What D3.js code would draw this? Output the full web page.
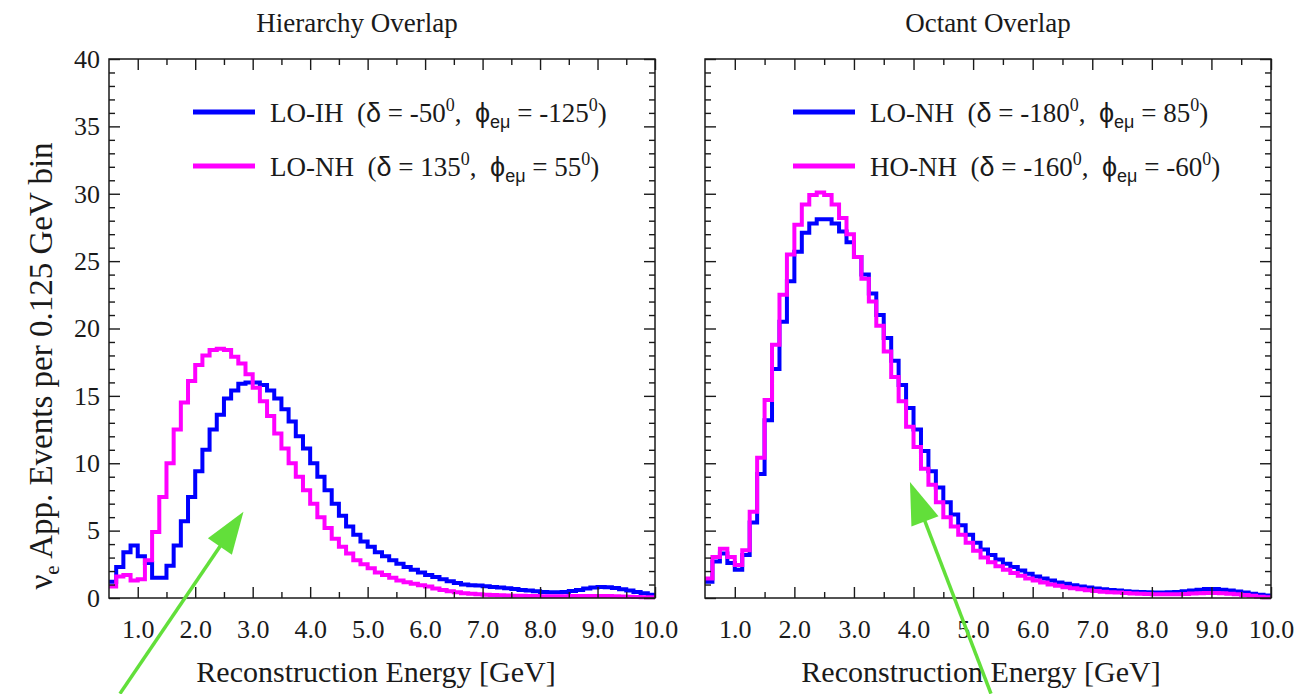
<!DOCTYPE html>
<html>
<head>
<meta charset="utf-8">
<script src="https://cdn.jsdelivr.net/npm/d3@7"></script>
<style>
  body { margin: 0; background: #fff; }
  svg { display: block; }
</style>
</head>
<body>
<svg id="chart" width="1298" height="694"></svg>
<script>
// ---- data -------------------------------------------------------------
// lower edges of the 0.125 GeV reconstruction-energy bins (0.5 .. 10.0 GeV)
const binLow = d3.range(76).map(i => 0.5 + i * 0.125);
const binTop = 10.0;

// Hierarchy overlap: LO-IH (blue) and LO-NH (magenta), events per bin
const hierarchyIH = [
  1.2, 2.3, 3.4, 3.9, 3.1, 2.6, 1.5, 1.5, 2.4, 3.9,
  5.7, 7.5, 9.4, 11.0, 12.5, 13.6, 14.8, 15.4, 15.9, 16.0,
  16.0, 15.8, 15.4, 14.8, 14.0, 13.1, 12.0, 11.1, 10.0, 9.0,
  8.0, 7.0, 6.1, 5.3, 4.7, 4.2, 3.8, 3.4, 3.1, 2.8,
  2.55, 2.3, 2.1, 1.9, 1.7, 1.55, 1.4, 1.25, 1.12, 1.0,
  0.95, 0.92, 0.88, 0.82, 0.77, 0.72, 0.66, 0.6, 0.55, 0.5,
  0.45, 0.42, 0.42, 0.45, 0.52, 0.6, 0.7, 0.78, 0.82, 0.8,
  0.75, 0.65, 0.55, 0.45, 0.35, 0.25
];
const hierarchyNH = [
  0.85, 1.6, 1.7, 1.3, 1.4, 2.8, 4.9, 7.5, 10.0, 12.5,
  14.5, 16.1, 17.3, 18.0, 18.4, 18.5, 18.4, 17.9, 17.4, 16.6,
  15.6, 14.6, 13.5, 12.2, 11.1, 10.0, 9.0, 8.0, 7.0, 6.0,
  5.2, 4.4, 3.8, 3.3, 2.8, 2.5, 2.2, 1.9, 1.7, 1.5,
  1.3, 1.17, 1.05, 0.95, 0.85, 0.7, 0.6, 0.5, 0.42, 0.36,
  0.32, 0.28, 0.25, 0.22, 0.2, 0.18, 0.17, 0.16, 0.15, 0.14,
  0.13, 0.13, 0.13, 0.13, 0.14, 0.15, 0.15, 0.15, 0.15, 0.14,
  0.13, 0.12, 0.1, 0.08, 0.06, 0.05
];

// Octant overlap: LO-NH (blue) and HO-NH (magenta), events per bin
const octantLO = [
  1.2, 2.7, 3.3, 2.6, 2.1, 3.2, 5.6, 9.2, 13.2, 17.0,
  20.5, 23.5, 25.7, 27.1, 27.8, 28.1, 28.1, 27.8, 27.2, 26.4,
  25.3, 24.0, 22.6, 21.0, 19.3, 17.6, 15.8, 14.1, 12.5, 10.9,
  9.4, 8.2, 7.1, 6.2, 5.4, 4.7, 4.1, 3.6, 3.2, 2.85,
  2.55, 2.3, 2.05, 1.8, 1.6, 1.45, 1.3, 1.15, 1.05, 0.95,
  0.85, 0.78, 0.7, 0.65, 0.6, 0.55, 0.5, 0.47, 0.44, 0.42,
  0.4, 0.4, 0.42, 0.45, 0.5, 0.56, 0.62, 0.66, 0.66, 0.62,
  0.56, 0.48, 0.4, 0.32, 0.25, 0.18
];
const octantHO = [
  1.45, 3.05, 3.65, 3.05, 2.45, 3.55, 6.4, 10.4, 14.7, 18.8,
  22.5, 25.5, 27.7, 29.2, 29.9, 30.1, 29.9, 29.2, 28.2, 27.0,
  25.3, 23.7, 22.0, 20.2, 18.3, 16.4, 14.6, 12.7, 11.2, 9.6,
  8.4, 7.1, 6.0, 5.3, 4.7, 4.1, 3.5, 3.0, 2.65, 2.35,
  2.1, 1.85, 1.65, 1.45, 1.3, 1.15, 1.0, 0.9, 0.8, 0.72,
  0.65, 0.58, 0.52, 0.47, 0.43, 0.4, 0.37, 0.34, 0.32, 0.3,
  0.28, 0.27, 0.27, 0.28, 0.3, 0.33, 0.35, 0.37, 0.37, 0.35,
  0.32, 0.28, 0.22, 0.16, 0.1, 0.06
];

// axis ticks
const xMajor = [1, 2, 3, 4, 5, 6, 7, 8, 9, 10];
const xMinor = [1.5, 2.5, 3.5, 4.5, 5.5, 6.5, 7.5, 8.5, 9.5];
const yMajor = [0, 5, 10, 15, 20, 25, 30, 35, 40];
const yMinor = d3.range(1, 40).filter(v => v % 5 !== 0);

// panel texts and legend entries
const titles = ["Hierarchy Overlap", "Octant Overlap"];
const xTitle = "Reconstruction Energy [GeV]";
const hierarchyLegend = [
  { name: "LO-IH", delta: "-50", phi: "-125" },
  { name: "LO-NH", delta: "135", phi: "55" }
];
const octantLegend = [
  { name: "LO-NH", delta: "-180", phi: "85" },
  { name: "HO-NH", delta: "-160", phi: "-60" }
];

// ---- layout and style -------------------------------------------------
const SERIF = "'Liberation Serif', 'Times New Roman', serif";
const SANS = "'Liberation Sans', Arial, sans-serif";
const BLUE = "#0000ff", MAGENTA = "#ff00ff", GREEN = "#62df3a", INK = "#1a1a1a";
const plotTop = 59, plotBottom = 598;
const TICK_FONT = 26;

const panels = [
  { left: 109, right: 655, title: titles[0], titleX: 357, xTitleX: 376,
    series: [hierarchyIH, hierarchyNH], legend: hierarchyLegend, legendX: 193,
    yLabels: true, arrow: { tail: [0.69, -7.1], tip: [2.84, 6.4] } },
  { left: 705, right: 1271, title: titles[1], titleX: 988, xTitleX: 981,
    series: [octantLO, octantHO], legend: octantLegend, legendX: 793,
    yLabels: false, arrow: { tail: [5.3, -7.1], tip: [3.94, 8.6] } }
];
const colors = [BLUE, MAGENTA];

const svg = d3.select("#chart");

function styleAxis(g) {
  g.select(".domain").remove();
  g.attr("font-family", SERIF).attr("font-size", TICK_FONT).attr("color", INK);
  g.selectAll(".tick line").attr("stroke-width", 1.4);
}

panels.forEach(p => {
  const x = d3.scaleLinear().domain([0.5, binTop]).range([p.left, p.right]);
  const y = d3.scaleLinear().domain([0, 40]).range([plotBottom, plotTop]);
  const g = svg.append("g");

  // histogram step lines
  const line = d3.line()
    .x(d => x(d[0])).y(d => y(d[1]))
    .curve(d3.curveStepAfter);
  p.series.forEach((vals, k) => {
    const pts = vals.map((v, i) => [binLow[i], v]);
    pts.push([binTop, vals[vals.length - 1]]);
    g.append("path")
      .attr("d", line(pts))
      .attr("fill", "none")
      .attr("stroke", colors[k])
      .attr("stroke-width", 4)
      .attr("stroke-linejoin", "miter");
  });

  // frame
  g.append("rect")
    .attr("x", p.left).attr("y", plotTop)
    .attr("width", p.right - p.left).attr("height", plotBottom - plotTop)
    .attr("fill", "none").attr("stroke", INK).attr("stroke-width", 1.5);

  // bottom axis with labels
  g.append("g").attr("transform", `translate(0,${plotBottom})`)
    .call(d3.axisBottom(x).tickValues(xMajor).tickSize(-11).tickSizeOuter(0)
      .tickPadding(22).tickFormat(d => d.toFixed(1)))
    .call(styleAxis);
  g.append("g").attr("transform", `translate(0,${plotBottom})`)
    .call(d3.axisBottom(x).tickValues(xMinor).tickSize(-6).tickSizeOuter(0).tickFormat(""))
    .call(styleAxis);
  // top axis
  g.append("g").attr("transform", `translate(0,${plotTop})`)
    .call(d3.axisTop(x).tickValues(xMajor).tickSize(-11).tickSizeOuter(0).tickFormat(""))
    .call(styleAxis);
  g.append("g").attr("transform", `translate(0,${plotTop})`)
    .call(d3.axisTop(x).tickValues(xMinor).tickSize(-6).tickSizeOuter(0).tickFormat(""))
    .call(styleAxis);
  // left axis
  g.append("g").attr("transform", `translate(${p.left},0)`)
    .call(d3.axisLeft(y).tickValues(yMajor).tickSize(-11).tickSizeOuter(0)
      .tickPadding(9).tickFormat(p.yLabels ? d3.format("d") : ""))
    .call(styleAxis);
  g.append("g").attr("transform", `translate(${p.left},0)`)
    .call(d3.axisLeft(y).tickValues(yMinor).tickSize(-6).tickSizeOuter(0).tickFormat(""))
    .call(styleAxis);
  // right axis
  g.append("g").attr("transform", `translate(${p.right},0)`)
    .call(d3.axisRight(y).tickValues(yMajor).tickSize(-11).tickSizeOuter(0).tickFormat(""))
    .call(styleAxis);
  g.append("g").attr("transform", `translate(${p.right},0)`)
    .call(d3.axisRight(y).tickValues(yMinor).tickSize(-6).tickSizeOuter(0).tickFormat(""))
    .call(styleAxis);

  // panel title and x-axis title
  g.append("text").attr("x", p.titleX).attr("y", 32)
    .attr("text-anchor", "middle").attr("font-family", SERIF)
    .attr("font-size", 27).attr("fill", INK).text(p.title);
  g.append("text").attr("x", p.xTitleX).attr("y", 682)
    .attr("text-anchor", "middle").attr("font-family", SERIF)
    .attr("font-size", 30).attr("fill", INK).text(xTitle);

  // legend
  p.legend.forEach((e, k) => {
    const ly = 112 + k * 54;
    g.append("line")
      .attr("x1", p.legendX).attr("x2", p.legendX + 62)
      .attr("y1", ly).attr("y2", ly)
      .attr("stroke", colors[k]).attr("stroke-width", 5);
    const t = g.append("text")
      .attr("x", p.legendX + 77).attr("y", ly + 10)
      .attr("font-family", SERIF).attr("font-size", 27).attr("fill", INK)
      .style("white-space", "pre");
    const seg = (s, opts = {}) => {
      const ts = t.append("tspan").text(s);
      if (opts.font) ts.attr("font-family", opts.font);
      if (opts.size) ts.attr("font-size", opts.size);
      if (opts.dy) ts.attr("dy", opts.dy);
      return ts;
    };
    seg(e.name + "  (");
    seg("δ", { font: SANS });
    seg(" = " + e.delta);
    seg("0", { size: 18, dy: -11 });
    seg(",  ", { dy: 11 });
    seg("ϕ", { font: SANS });
    seg("eμ", { size: 18, dy: 6, font: SANS });
    seg(" = " + e.phi, { dy: -6 });
    seg("0", { size: 18, dy: -11 });
    seg(")", { dy: 11 });
  });

  // green pointer arrow
  const tip = [x(p.arrow.tip[0]), y(p.arrow.tip[1])];
  const tail = [x(p.arrow.tail[0]), y(p.arrow.tail[1])];
  const dx = tip[0] - tail[0], dy = tip[1] - tail[1];
  const len = Math.hypot(dx, dy), ux = dx / len, uy = dy / len;
  const headLen = 42, headHalf = 14.5;
  const base = [tip[0] - ux * headLen, tip[1] - uy * headLen];
  g.append("line")
    .attr("x1", tail[0]).attr("y1", tail[1])
    .attr("x2", base[0] + ux * 4).attr("y2", base[1] + uy * 4)
    .attr("stroke", GREEN).attr("stroke-width", 3.5);
  g.append("path")
    .attr("d", d3.line()([
      tip,
      [base[0] - uy * headHalf, base[1] + ux * headHalf],
      [base[0] + uy * headHalf, base[1] - ux * headHalf]
    ]) + "Z")
    .attr("fill", GREEN);
});

// shared y-axis title
const yt = svg.append("text")
  .attr("transform", "translate(52,366) rotate(-90)")
  .attr("text-anchor", "middle")
  .attr("font-family", SERIF).attr("font-size", 33).attr("fill", INK);
yt.append("tspan").text("ν");
yt.append("tspan").attr("font-size", 21).attr("dy", 7).text("e");
yt.append("tspan").attr("dy", -7).text(" App. Events per 0.125 GeV bin");
</script>
</body>
</html>
